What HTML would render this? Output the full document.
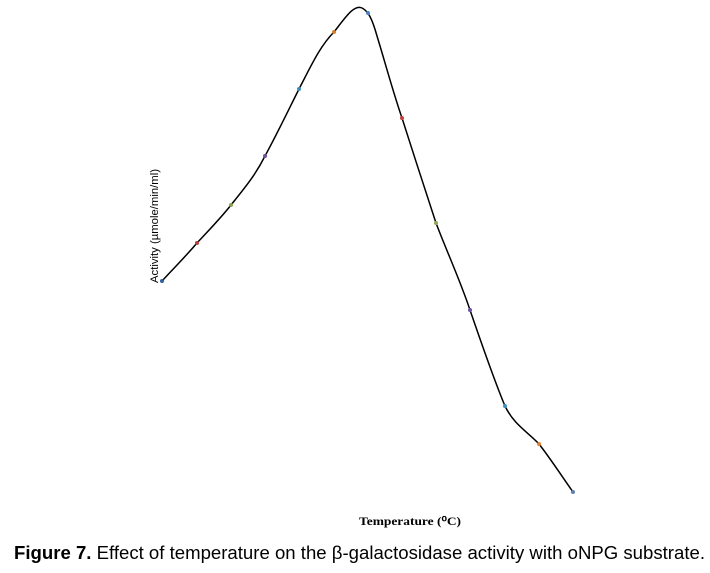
<!DOCTYPE html>
<html><head><meta charset="utf-8"><style>html,body{margin:0;padding:0;background:#fff;width:710px;height:573px;overflow:hidden}</style></head>
<body>
<svg width="710" height="573" viewBox="0 0 710 573" xmlns="http://www.w3.org/2000/svg">
<path d="M162,281 C174,268 186,256 197,243 C209,230 220,219 231,205 C243,190 255,176 265,156 C277,134 288,111 299,89 C311,66 320,46 334,32 C345,18 354,4 362,8 C368,11 372,18 377,36 C385,62 393,92 402,118 C413,152 425,190 436,223 C447,252 460,280 470,310 C481,342 494,380 505,406 C514,425 528,432 539,444 C550,458 561,475 573,492" fill="none" stroke="#000" stroke-width="1.5"/>
<g>
<circle cx="162" cy="281" r="2" fill="#2f5f9a"/>
<circle cx="197" cy="243" r="2" fill="#b04040"/>
<circle cx="231" cy="205" r="2" fill="#8aa050"/>
<circle cx="265" cy="156" r="2" fill="#705090"/>
<circle cx="299" cy="89" r="2" fill="#3a8ac0"/>
<circle cx="334" cy="32" r="2" fill="#d08030"/>
<circle cx="368" cy="13" r="2" fill="#4a80c8"/>
<circle cx="402" cy="118" r="2" fill="#c04040"/>
<circle cx="436" cy="223" r="2" fill="#90a850"/>
<circle cx="470" cy="310" r="2" fill="#6a50a0"/>
<circle cx="505" cy="406" r="2" fill="#3a90c0"/>
<circle cx="539" cy="444" r="2" fill="#e08030"/>
<circle cx="573" cy="492" r="2" fill="#6080b0"/>
</g>
<text transform="translate(158,226) rotate(-90)" text-anchor="middle" font-family="Liberation Sans, sans-serif" font-size="11" textLength="114" lengthAdjust="spacingAndGlyphs">Activity (µmole/min/ml)</text>
<text x="410" y="525" text-anchor="middle" font-family="Liberation Serif, serif" font-weight="bold" font-size="12" textLength="102" lengthAdjust="spacingAndGlyphs">Temperature (⁰C)</text>
<text x="14" y="559" font-family="Liberation Sans Narrow, Liberation Sans, sans-serif" font-size="18" textLength="691" lengthAdjust="spacingAndGlyphs"><tspan font-weight="bold">Figure 7.</tspan> Effect of temperature on the β-galactosidase activity with oNPG substrate.</text>
</svg>
</body></html>
